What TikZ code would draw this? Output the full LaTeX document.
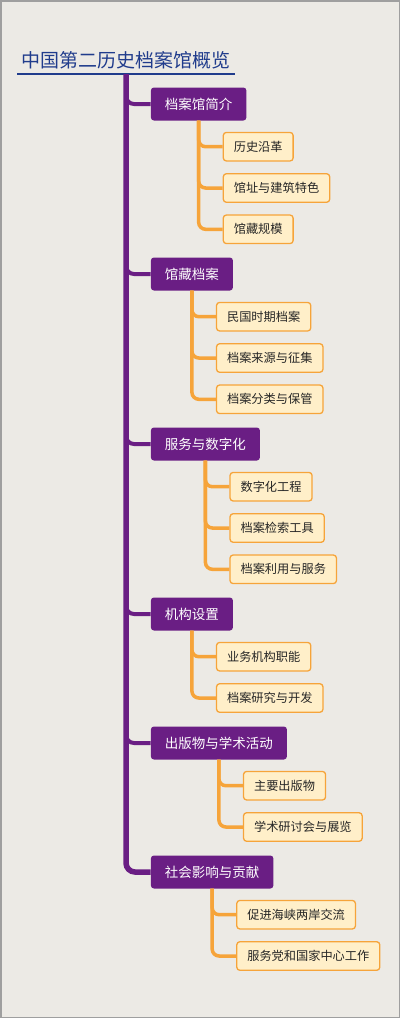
\documentclass[tikz,border=0pt]{standalone}
\usepackage{fontspec}
\newfontfamily\cjk{Noto Sans CJK SC}
\definecolor{TrunkPurple}{RGB}{106,30,132}
\definecolor{LeafOrange}{RGB}{246,164,58}
\definecolor{LeafFill}{RGB}{255,239,201}
\definecolor{TitleBlue}{RGB}{32,60,140}
\definecolor{PaperGray}{RGB}{236,234,229}
\usetikzlibrary{calc}

\tikzset{
  topic/.style={fill=TrunkPurple, text=white, rounded corners=3pt, inner xsep=14pt,
    minimum height=33pt, anchor=west, font=\cjk\fontsize{13.5}{16}\selectfont},
  leaf/.style={draw=LeafOrange, line width=1.3pt, fill=LeafFill, text=black!85,
    rounded corners=3pt, inner xsep=10.5pt, minimum height=28.5pt, anchor=west,
    font=\cjk\fontsize{12.2}{14}\selectfont},
  trunk/.style={TrunkPurple, line width=5.5pt, rounded corners=9pt},
  branch/.style={TrunkPurple, line width=4pt, rounded corners=8pt},
  twig/.style={LeafOrange, line width=3.5pt, rounded corners=7pt},
}

\begin{document}
\begin{tikzpicture}[x=1pt,y=-1pt]
  \fill[PaperGray] (0,0) rectangle (400,1018);
  \draw[gray!75,line width=1.5pt] (0.75,0.75) rectangle (399.25,1017.25);
  \useasboundingbox (0,0) rectangle (400,1018);

  \node[text=TitleBlue, inner xsep=4pt, minimum height=28pt,
    font=\cjk\fontsize{19}{22}\selectfont] (title) at (126,60) {中国第二历史档案馆概览};
  \draw[TitleBlue,line width=1.8pt] (title.south west) -- (title.south east);

  \node[topic] (t1) at (150.7,104) {档案馆简介};
  \node[topic] (t2) at (150.7,274) {馆藏档案};
  \node[topic] (t3) at (150.7,444) {服务与数字化};
  \node[topic] (t4) at (150.7,614) {机构设置};
  \node[topic] (t5) at (150.7,743) {出版物与学术活动};
  \node[topic] (t6) at (150.7,872) {社会影响与贡献};

  \draw[trunk] (title.south) |- (t6.west);
  \foreach \t in {t1,t2,t3,t4,t5} {
    \draw[branch] ($(title.south |- \t.west)+(0,-12)$) |- (\t.west);
  }

  \foreach \p/\i/\txt in {t1/1/历史沿革, t1/2/馆址与建筑特色, t1/3/馆藏规模,
      t2/1/民国时期档案, t2/2/档案来源与征集, t2/3/档案分类与保管,
      t3/1/数字化工程, t3/2/档案检索工具, t3/3/档案利用与服务,
      t4/1/业务机构职能, t4/2/档案研究与开发,
      t5/1/主要出版物, t5/2/学术研讨会与展览,
      t6/1/促进海峡两岸交流, t6/2/服务党和国家中心工作} {
    \node[leaf] (\p-\i) at ($(\p.south)+(24,{26+(\i-1)*41.3})$) {\txt};
    \draw[twig] (\p.south) |- (\p-\i.west);
  }
\end{tikzpicture}
\end{document}
